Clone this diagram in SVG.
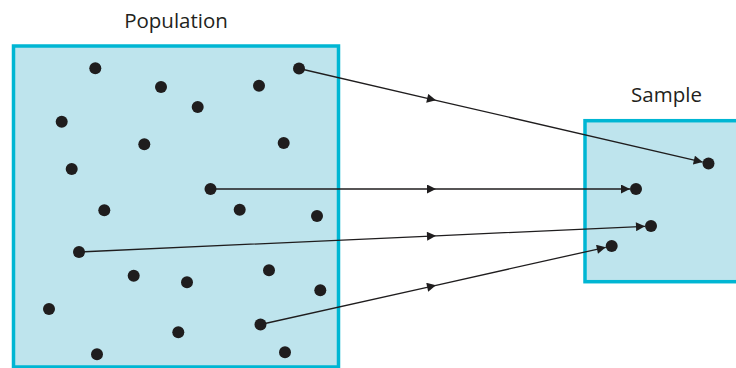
<svg xmlns="http://www.w3.org/2000/svg" width="736" height="368" viewBox="0 0 736 368">
<style>
.box{fill:#bee4ed;stroke:#00b6d3;stroke-width:3.5}
.dot{fill:#1f1d1e}
.lbl{font-family:"Open Sans","Noto Sans","DejaVu Sans",sans-serif;font-size:20.5px;fill:#231f20;text-anchor:middle}
.link{fill:none;stroke:#1f1d1e;stroke-width:1.3;marker-mid:url(#arr);marker-end:url(#arr)}
</style>
<defs>
<marker id="arr" markerUnits="userSpaceOnUse" viewBox="0 0 10 10" markerWidth="10" markerHeight="9" refX="10" refY="5" orient="auto">
<path d="M0,0 L10,5 L0,10 z" fill="#1f1d1e"/>
</marker>
</defs>
<g id="population">
<rect class="box" x="13.5" y="46" width="325" height="321"/>
<text class="lbl" x="176" y="27.5">Population</text>
<g id="pop-dots">
<circle id="p1" class="dot" cx="95.3" cy="68.3" r="6"/>
<circle id="p2" class="dot" cx="299" cy="68.5" r="6"/>
<circle id="p3" class="dot" cx="161" cy="87" r="6"/>
<circle id="p4" class="dot" cx="259" cy="85.7" r="6"/>
<circle id="p5" class="dot" cx="197.7" cy="107" r="6"/>
<circle id="p6" class="dot" cx="61.7" cy="121.7" r="6"/>
<circle id="p7" class="dot" cx="144.3" cy="144.3" r="6"/>
<circle id="p8" class="dot" cx="283.7" cy="143" r="6"/>
<circle id="p9" class="dot" cx="71.7" cy="169" r="6"/>
<circle id="p10" class="dot" cx="210.5" cy="189" r="6"/>
<circle id="p11" class="dot" cx="104.3" cy="210.3" r="6"/>
<circle id="p12" class="dot" cx="239.7" cy="209.7" r="6"/>
<circle id="p13" class="dot" cx="317" cy="216" r="6"/>
<circle id="p14" class="dot" cx="79" cy="252" r="6"/>
<circle id="p15" class="dot" cx="133.7" cy="275.7" r="6"/>
<circle id="p16" class="dot" cx="187" cy="282.3" r="6"/>
<circle id="p17" class="dot" cx="269" cy="270.3" r="6"/>
<circle id="p18" class="dot" cx="320.3" cy="290.3" r="6"/>
<circle id="p19" class="dot" cx="49" cy="309" r="6"/>
<circle id="p20" class="dot" cx="178.3" cy="332.3" r="6"/>
<circle id="p21" class="dot" cx="260.5" cy="324.5" r="6"/>
<circle id="p22" class="dot" cx="97" cy="354.3" r="6"/>
<circle id="p23" class="dot" cx="285" cy="352.3" r="6"/>
</g>
</g>
<g id="sample">
<rect class="box" x="585" y="120.7" width="160" height="161"/>
<text class="lbl" x="666.5" y="101.7">Sample</text>
<g id="sample-dots">
<circle id="s1" class="dot" cx="708.5" cy="163.5" r="6"/>
<circle id="s2" class="dot" cx="636" cy="189" r="6"/>
<circle id="s3" class="dot" cx="651" cy="226" r="6"/>
<circle id="s4" class="dot" cx="611.7" cy="246" r="6"/>
</g>
</g>
<g id="connectors">
<path class="link" d="M299,68.5 L436,100.3 L702.7,162.1"/>
<path class="link" d="M210.5,189 L436,189 L630,189"/>
<path class="link" d="M79,252 L436,235.8 L645,226.3"/>
<path class="link" d="M260.5,324.5 L436,285.3 L605.8,247.3"/>
</g>
</svg>
